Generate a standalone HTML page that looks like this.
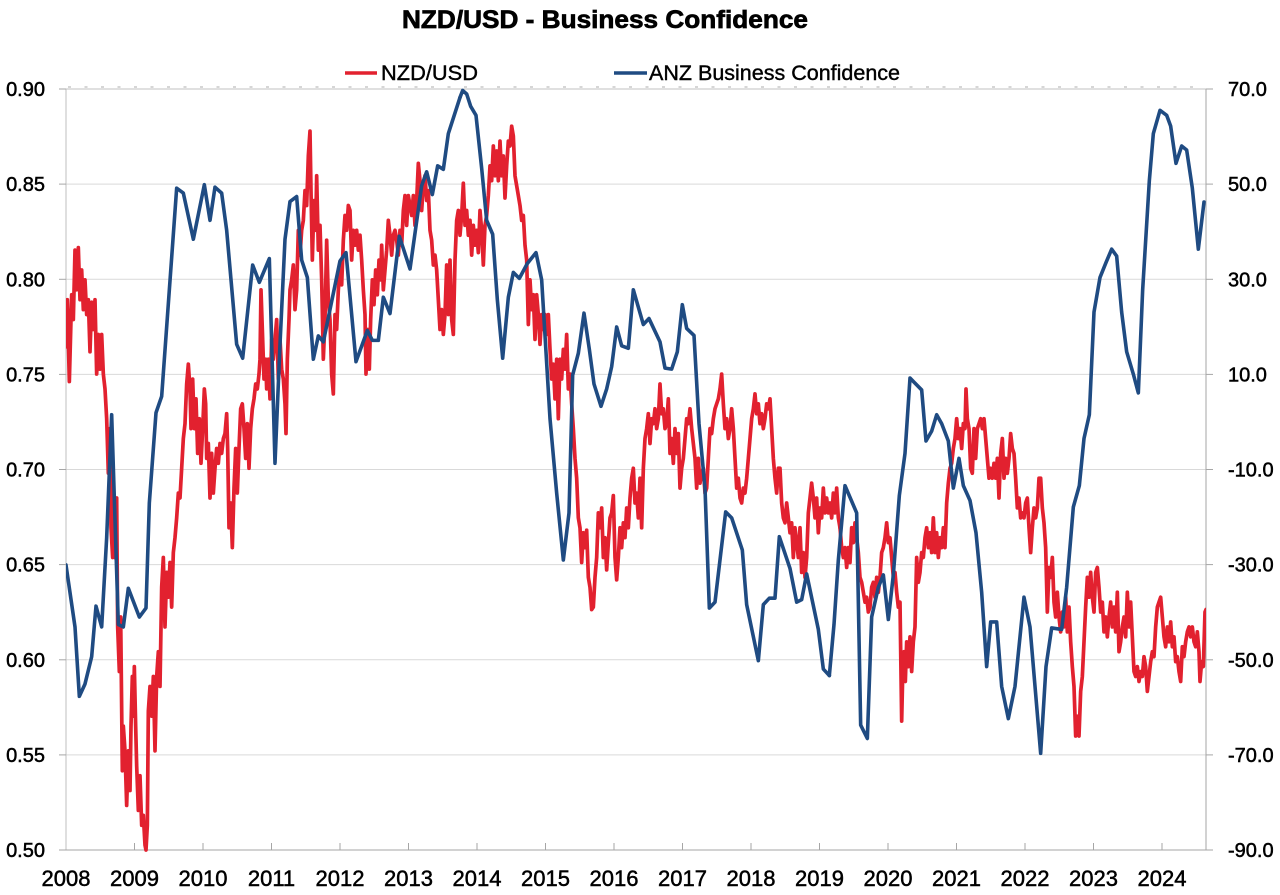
<!DOCTYPE html>
<html>
<head>
<meta charset="utf-8">
<style>
  html,body{margin:0;padding:0;background:#fff;}
  svg{display:block;}
  text{font-family:"Liberation Sans",Arial,sans-serif;fill:#000;}
</style>
</head>
<body>
<svg width="1280" height="895" viewBox="0 0 1280 895" xmlns="http://www.w3.org/2000/svg">
  <rect x="0" y="0" width="1280" height="895" fill="#fff"/>
  <defs>
    <clipPath id="plot"><rect x="66" y="86" width="1140" height="766"/></clipPath>
  </defs>

  <!-- Title -->
  <text x="402" y="28" font-size="25" font-weight="bold" stroke="#000" stroke-width="0.7" textLength="406" lengthAdjust="spacingAndGlyphs">NZD/USD - Business Confidence</text>

  <!-- Legend -->
  <line x1="345" y1="73" x2="377" y2="73" stroke="#e2212f" stroke-width="3.5"/>
  <text x="381" y="80" font-size="21" stroke="#000" stroke-width="0.4" textLength="97" lengthAdjust="spacingAndGlyphs">NZD/USD</text>
  <line x1="614" y1="73" x2="647" y2="73" stroke="#1f4b82" stroke-width="3.5"/>
  <text x="649" y="80" font-size="21" stroke="#000" stroke-width="0.4" textLength="251" lengthAdjust="spacingAndGlyphs">ANZ Business Confidence</text>

  <!-- Gridlines -->
  <g stroke="#d9d9d9" stroke-width="1">
    <line x1="66" y1="184.1" x2="1206" y2="184.1"/>
    <line x1="66" y1="279.3" x2="1206" y2="279.3"/>
    <line x1="66" y1="374.4" x2="1206" y2="374.4"/>
    <line x1="66" y1="469.5" x2="1206" y2="469.5"/>
    <line x1="66" y1="564.6" x2="1206" y2="564.6"/>
    <line x1="66" y1="659.8" x2="1206" y2="659.8"/>
    <line x1="66" y1="754.9" x2="1206" y2="754.9"/>
  </g>
  <!-- top border with dashes -->
  <line x1="66" y1="89" x2="1206" y2="89" stroke="#c0c0c0" stroke-width="1"/>
  <line x1="68" y1="87" x2="1206" y2="87" stroke="#bdbdbd" stroke-width="1.2" stroke-dasharray="3,13.5"/>

  <!-- Axes -->
  <line x1="66" y1="89" x2="66" y2="850" stroke="#bfbfbf" stroke-width="1"/>
  <line x1="1206" y1="89" x2="1206" y2="850" stroke="#a6a6a6" stroke-width="1"/>
  <line x1="59" y1="850" x2="1213" y2="850" stroke="#a6a6a6" stroke-width="1"/>

  <!-- ticks -->
  <g stroke="#a6a6a6" stroke-width="1">
    <line x1="59" y1="89" x2="66" y2="89"/>
    <line x1="59" y1="184.1" x2="66" y2="184.1"/>
    <line x1="59" y1="279.3" x2="66" y2="279.3"/>
    <line x1="59" y1="374.4" x2="66" y2="374.4"/>
    <line x1="59" y1="469.5" x2="66" y2="469.5"/>
    <line x1="59" y1="564.6" x2="66" y2="564.6"/>
    <line x1="59" y1="659.8" x2="66" y2="659.8"/>
    <line x1="59" y1="754.9" x2="66" y2="754.9"/>
    <line x1="1206" y1="89" x2="1213" y2="89"/>
    <line x1="1206" y1="184.1" x2="1213" y2="184.1"/>
    <line x1="1206" y1="279.3" x2="1213" y2="279.3"/>
    <line x1="1206" y1="374.4" x2="1213" y2="374.4"/>
    <line x1="1206" y1="469.5" x2="1213" y2="469.5"/>
    <line x1="1206" y1="564.6" x2="1213" y2="564.6"/>
    <line x1="1206" y1="659.8" x2="1213" y2="659.8"/>
    <line x1="1206" y1="754.9" x2="1213" y2="754.9"/>
    <line x1="134.5" y1="843" x2="134.5" y2="850"/>
    <line x1="203" y1="843" x2="203" y2="850"/>
    <line x1="271.5" y1="843" x2="271.5" y2="850"/>
    <line x1="340" y1="843" x2="340" y2="850"/>
    <line x1="408.5" y1="843" x2="408.5" y2="850"/>
    <line x1="477" y1="843" x2="477" y2="850"/>
    <line x1="545.5" y1="843" x2="545.5" y2="850"/>
    <line x1="614" y1="843" x2="614" y2="850"/>
    <line x1="682.5" y1="843" x2="682.5" y2="850"/>
    <line x1="751" y1="843" x2="751" y2="850"/>
    <line x1="819.5" y1="843" x2="819.5" y2="850"/>
    <line x1="888" y1="843" x2="888" y2="850"/>
    <line x1="956.5" y1="843" x2="956.5" y2="850"/>
    <line x1="1025" y1="843" x2="1025" y2="850"/>
    <line x1="1093.5" y1="843" x2="1093.5" y2="850"/>
    <line x1="1162" y1="843" x2="1162" y2="850"/>
  </g>

  <!-- Left axis labels -->
  <g font-size="20" text-anchor="end" stroke="#000" stroke-width="0.5">
    <text x="45" y="96">0.90</text>
    <text x="45" y="191.1">0.85</text>
    <text x="45" y="286.3">0.80</text>
    <text x="45" y="381.4">0.75</text>
    <text x="45" y="476.5">0.70</text>
    <text x="45" y="571.6">0.65</text>
    <text x="45" y="666.8">0.60</text>
    <text x="45" y="761.9">0.55</text>
    <text x="45" y="857">0.50</text>
  </g>
  <!-- Right axis labels -->
  <g font-size="20" text-anchor="start" stroke="#000" stroke-width="0.5">
    <text x="1228" y="96">70.0</text>
    <text x="1228" y="191.1">50.0</text>
    <text x="1228" y="286.3">30.0</text>
    <text x="1228" y="381.4">10.0</text>
    <text x="1228" y="476.5">-10.0</text>
    <text x="1228" y="571.6">-30.0</text>
    <text x="1228" y="666.8">-50.0</text>
    <text x="1228" y="761.9">-70.0</text>
    <text x="1228" y="857">-90.0</text>
  </g>
  <!-- Year labels -->
  <g font-size="22" text-anchor="middle" stroke="#000" stroke-width="0.5">
    <text x="66" y="886">2008</text>
    <text x="134.5" y="886">2009</text>
    <text x="203" y="886">2010</text>
    <text x="271.5" y="886">2011</text>
    <text x="340" y="886">2012</text>
    <text x="408.5" y="886">2013</text>
    <text x="477" y="886">2014</text>
    <text x="545.5" y="886">2015</text>
    <text x="614" y="886">2016</text>
    <text x="682.5" y="886">2017</text>
    <text x="751" y="886">2018</text>
    <text x="819.5" y="886">2019</text>
    <text x="888" y="886">2020</text>
    <text x="956.5" y="886">2021</text>
    <text x="1025" y="886">2022</text>
    <text x="1093.5" y="886">2023</text>
    <text x="1162" y="886">2024</text>
  </g>

  <g clip-path="url(#plot)" fill="none" stroke-linejoin="round" stroke-linecap="round">
    <!-- RED NZD/USD -->
    <g stroke="#e2212f" stroke-width="3.7">
      <path vector-effect="non-scaling-stroke" transform="translate(60,81.56) scale(0.33333,0.4958)" d="M18,535 L22,440 L28,605 L35,430 L40,480 L45,340 L50,420 L55,335 L60,440 L65,380 L70,460 L75,400 L80,470 L85,440 L90,545 L95,445 L100,500 L105,440 L110,590 L115,510 L120,580 L125,510 L130,590 L135,620 L140,680 L145,790 L150,700 L153,900 L158,960 L160,810 L165,960 L170,840 L173,1100 L178,1190 L182,1080 L187,1390 L190,1300 L195,1350 L200,1460 L205,1350 L210,1430 L213,1300 L217,1200 L220,1280 L223,1180 L227,1300 L230,1380 L235,1470 L240,1400 L245,1500 L250,1480 L255,1540 L258,1550 L262,1500 L265,1270 L270,1220 L275,1280 L280,1200 L285,1350 L290,1200 L295,1150 L300,1220 L305,1020 L310,960 L315,1100 L320,990 L325,1040 L330,970 L335,1060 L340,950 L345,920 L350,880 L355,830 L360,840 L365,780 L370,720 L375,690 L380,610 L385,570 L390,620 L393,700 L398,600 L403,700 L408,640 L413,750 L418,680 L423,770 L428,700 L433,620 L437,650 L440,760 L445,730 L450,840 L455,750 L460,830 L465,780 L470,740 L475,770 L480,730 L485,750 L490,720 L495,710 L500,670 L503,740 L507,900 L512,850 L517,940 L522,820 L527,740 L532,830 L537,740 L542,660 L547,650 L552,700 L557,760 L562,690 L567,780 L572,700 L577,660 L582,640 L587,610 L592,620 L597,590 L600,560 L603,420 L607,500 L612,600 L617,560 L620,620 L625,560 L630,640 L635,520 L640,560 L645,520 L650,480 L655,600 L660,520 L665,580 L670,600 L675,650 L678,710 L682,560 L687,480 L690,420 L695,400 L700,370 L705,460 L710,420 L715,300 L720,350 L725,300 L730,280 L735,220 L740,250 L745,150 L750,100 L753,220 L757,360 L762,240 L767,300 L770,190 L775,340 L780,290 L785,400 L790,560 L795,480 L800,320 L805,440 L810,480 L815,590 L820,630 L825,470 L830,500 L835,420 L840,380 L845,410 L850,320 L855,270 L860,300 L865,250 L870,260 L875,360 L880,300 L885,330 L890,300 L895,340 L900,310 L905,360 L910,420 L915,470 L918,590 L923,500 L928,580 L932,480 L937,400 L942,450 L947,380 L952,430 L957,360 L962,400 L965,330 L970,420 L975,380 L980,340 L985,280 L990,310 L995,350 L1000,310 L1005,300 L1010,320 L1015,350 L1020,300 L1025,330 L1030,260 L1035,230 L1040,290 L1045,230 L1050,250 L1055,270 L1060,230 L1065,290 L1070,240 L1075,165 L1080,200 L1085,260 L1090,210 L1095,190 L1100,240 L1105,220 L1110,300 L1115,320 L1120,370 L1125,350 L1130,380 L1135,440 L1140,500 L1145,460 L1150,510 L1155,470 L1160,370"/>
      <path vector-effect="non-scaling-stroke" transform="translate(440,81.56) scale(0.33333,0.4958)" d="M20,380 L25,470 L30,360 L35,480 L40,510 L45,360 L50,280 L55,260 L60,310 L65,270 L70,205 L75,290 L80,260 L85,310 L90,280 L95,350 L100,290 L105,330 L110,300 L115,345 L120,260 L125,300 L130,370 L135,290 L140,270 L145,230 L150,170 L155,200 L160,130 L165,190 L170,140 L175,200 L180,120 L185,190 L190,150 L195,235 L200,170 L205,120 L210,130 L215,90 L220,110 L225,190 L230,210 L235,230 L240,250 L245,280 L250,270 L255,330 L260,360 L265,490 L270,400 L275,460 L280,430 L285,520 L290,430 L295,470 L300,530 L305,470 L310,500 L315,470 L320,510 L325,470 L330,540 L335,600 L340,570 L345,640 L350,560 L355,680 L360,560 L365,600 L370,540 L375,580 L380,510 L385,620 L390,590 L395,650 L400,700 L405,760 L410,800 L415,880 L420,900 L425,970 L430,910 L435,940 L440,905 L445,1000 L450,1020 L455,1065 L460,1060 L465,1000 L470,960 L475,870 L480,900 L485,860 L490,960 L495,920 L500,985 L505,930 L510,880 L515,870 L520,835 L525,960 L530,1005 L535,960 L540,900 L545,940 L550,890 L555,920 L560,860 L565,900 L570,840 L575,800 L580,780 L585,850 L590,830 L595,880 L600,800 L605,900 L610,780 L615,720 L620,700 L625,670 L630,730 L635,680 L640,690 L645,660 L650,700 L655,680 L660,610 L665,670 L670,660 L675,700 L680,690 L685,640 L690,750 L695,720 L700,770 L705,700 L710,750 L715,710 L720,820 L725,780 L730,760 L735,720 L740,680 L745,690 L750,660 L755,700 L760,730 L765,760 L770,820 L775,760 L780,810 L785,790 L790,780 L795,830 L800,820 L805,760 L810,700 L815,710 L820,680 L825,660 L830,650 L835,640 L840,620 L845,590 L850,650 L855,700 L860,680 L865,720 L870,700 L875,660 L880,700 L885,760 L890,820 L895,800 L900,840 L905,850 L910,820 L915,830 L920,800 L925,760 L930,720 L935,680 L940,660 L945,630 L950,670 L955,650 L960,690 L965,670 L970,700 L975,680 L980,650 L985,660 L990,640 L995,700 L1000,760 L1005,800 L1010,830 L1015,780 L1020,780 L1025,850 L1030,880 L1035,890 L1040,850 L1045,880 L1050,910 L1055,890 L1060,960 L1065,900 L1070,930 L1075,960 L1080,900 L1085,990 L1090,950 L1095,1000 L1100,960 L1105,870 L1110,840 L1115,810 L1120,840 L1125,880 L1130,840 L1135,910 L1140,860 L1145,880 L1150,820 L1155,870 L1160,840 L1165,870 L1170,850 L1175,880 L1180,830 L1185,870 L1190,820 L1195,880 L1200,900"/>
      <path vector-effect="non-scaling-stroke" transform="translate(820,81.56) scale(0.33333,0.4958)" d="M60,900 L65,940 L70,960 L75,940 L80,980 L85,940 L90,970 L95,900 L100,930 L105,890 L110,920 L115,950 L120,1000 L125,1010 L130,1030 L135,1050 L140,1040 L145,1070 L150,1060 L155,1020 L160,1010 L165,1040 L170,1000 L175,1030 L180,1000 L185,950 L190,940 L195,920 L200,890 L205,930 L210,920 L215,960 L220,1000 L225,990 L230,1030 L235,1060 L240,1050 L245,1290 L248,1200 L252,1150 L256,1210 L260,1130 L265,1180 L270,1120 L275,1190 L280,1130 L285,1100 L290,960 L295,1010 L300,990 L305,950 L310,960 L315,920 L320,900 L325,940 L330,910 L335,950 L340,880 L345,950 L350,910 L355,960 L360,920 L365,940 L370,900 L375,940 L380,850 L385,810 L390,780 L395,770 L400,740 L405,720 L410,680 L415,720 L420,700 L425,740 L430,690 L435,700 L438,620 L442,680 L447,700 L452,780 L457,790 L462,700 L467,760 L472,700 L477,690 L482,680 L487,700 L492,680 L497,720 L502,760 L507,800 L512,780 L517,800 L522,770 L527,800 L532,760 L537,840 L542,750 L547,720 L552,800 L557,760 L562,790 L567,760 L572,710 L577,740 L582,750 L587,800 L592,860 L597,840 L602,880 L607,870 L612,880 L617,850 L622,840 L627,900 L632,950 L637,900 L642,860 L647,880 L652,860 L657,800 L662,800 L667,860 L672,890 L677,940 L682,1070 L687,980 L692,1000 L697,960 L702,1050 L707,1080 L712,1030 L717,1080 L722,1110 L727,1070 L732,1100 L737,1040 L742,1110 L747,1060 L752,1130 L757,1180 L762,1220 L767,1320 L772,1280 L777,1320 L782,1230 L787,1200 L792,1130 L797,1060 L802,1000 L807,1040 L812,990 L817,1040 L822,1070 L827,990 L832,980 L837,1020 L842,1070 L847,1050 L852,1110 L857,1080 L862,1120 L867,1080 L872,1050 L877,1100 L882,1060 L887,1110 L892,1030 L897,1150 L902,1130 L907,1100 L912,1080 L917,1120 L922,1030 L927,1100 L932,1050 L937,1120 L942,1190 L947,1200 L952,1180 L957,1210 L962,1190 L967,1200 L972,1160 L977,1180 L982,1230 L987,1200 L992,1170 L997,1150 L1002,1160 L1007,1100 L1012,1060 L1017,1050 L1022,1040 L1027,1080 L1032,1120 L1037,1140 L1042,1100 L1047,1130 L1052,1090 L1057,1140 L1062,1120 L1067,1170 L1072,1160 L1077,1190 L1082,1210 L1087,1140 L1092,1160 L1097,1130 L1102,1110 L1107,1100 L1112,1120 L1117,1100 L1122,1130 L1127,1140 L1132,1110 L1137,1150 L1140,1210 L1145,1170 L1150,1180 L1155,1070 L1158,1065"/>
    </g>
    <!-- BLUE ANZ Business Confidence -->
    <g stroke="#1f4b82" stroke-width="3.6">
      <path vector-effect="non-scaling-stroke" transform="translate(60,81.56) scale(0.33333,0.4958)" d="M18,975 L45,1100 L58,1240 L75,1215 L95,1160 L108,1058 L125,1100 L140,920 L155,672 L175,1095 L190,1100 L205,1022 L238,1080 L258,1062 L268,850 L288,668 L305,635 L350,215 L370,225 L400,318 L433,208 L450,280 L465,213 L485,225 L500,300 L530,530 L548,558 L578,370 L598,405 L628,357 L645,770 L660,530 L675,318 L690,242 L710,232 L725,360 L742,395 L760,560 L775,513 L790,525 L840,362 L858,345 L888,565 L922,502 L937,522 L955,522 L970,435 L990,468 L1018,312 L1050,378 L1085,210 L1100,182 L1117,228 L1133,170 L1150,177 L1165,105 L1200,32"/>
      <path vector-effect="non-scaling-stroke" transform="translate(440,81.56) scale(0.33333,0.4958)" d="M60,32 L68,18 L80,25 L92,50 L108,68 L125,175 L140,280 L158,308 L172,440 L188,558 L205,435 L220,385 L238,397 L262,367 L288,345 L305,400 L330,680 L350,830 L370,965 L387,870 L398,592 L415,548 L432,467 L448,540 L462,610 L483,655 L500,620 L515,575 L530,495 L545,533 L565,538 L580,420 L610,490 L627,478 L660,525 L675,578 L695,580 L712,545 L727,450 L740,498 L762,512 L777,690 L795,820 L808,1062 L825,1050 L857,868 L875,880 L907,945 L920,1055 L955,1168 L970,1055 L988,1042 L1005,1042 L1018,918 L1050,982 L1070,1050 L1085,1045 L1100,993 L1135,1105 L1150,1185 L1168,1198"/>
      <path vector-effect="non-scaling-stroke" transform="translate(820,81.56) scale(0.33333,0.4958)" d="M28,1198 L42,1095 L55,965 L75,815 L110,870 L122,1298 L142,1325 L155,1080 L175,1020 L190,995 L205,1085 L220,995 L238,835 L255,750 L270,598 L305,622 L318,725 L335,705 L350,672 L365,690 L385,725 L400,820 L417,760 L430,815 L450,845 L468,910 L485,1030 L500,1180 L512,1090 L530,1090 L545,1220 L565,1285 L585,1220 L612,1040 L630,1100 L662,1355 L678,1180 L695,1102 L725,1105 L740,1020 L760,858 L778,815 L792,720 L808,672 L822,465 L840,395 L858,365 L875,338 L890,352 L905,465 L920,545 L940,590 L955,628 L968,420 L988,200 L1000,105 L1020,58 L1040,68 L1052,90 L1068,165 L1085,130 L1100,138 L1117,215 L1135,338 L1152,243"/>
    </g>
  </g>
</svg>
</body>
</html>
